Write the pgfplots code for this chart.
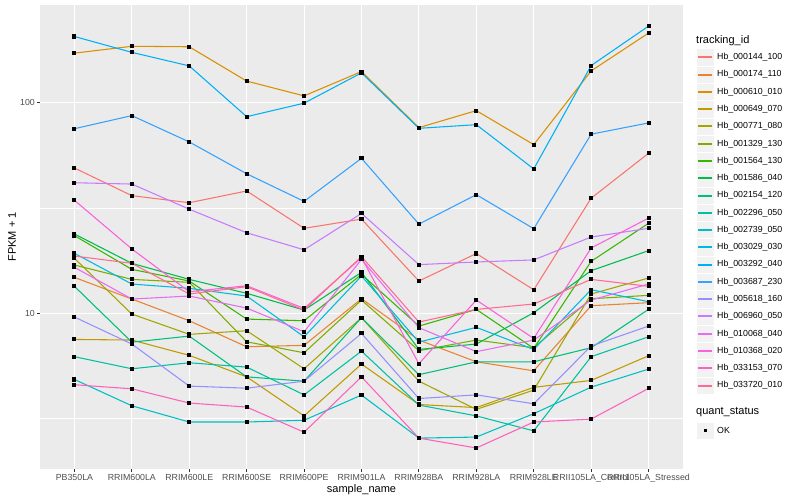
\documentclass[border=0pt]{standalone}
\usepackage{fontspec}
\setmainfont{Liberation Sans}
\usepackage{pgfplots}
\usepackage{pgfplotstable}
\pgfplotsset{compat=1.18}

\definecolor{panel}{HTML}{EBEBEB}
\definecolor{keybg}{HTML}{F2F2F2}
\definecolor{gray20}{HTML}{333333}
\definecolor{gray30}{HTML}{4D4D4D}
\definecolor{c1}{HTML}{F8766D}
\definecolor{c2}{HTML}{EA8331}
\definecolor{c3}{HTML}{D89000}
\definecolor{c4}{HTML}{C09B00}
\definecolor{c5}{HTML}{A3A500}
\definecolor{c6}{HTML}{7CAE00}
\definecolor{c7}{HTML}{39B600}
\definecolor{c8}{HTML}{00BB4E}
\definecolor{c9}{HTML}{00BF7D}
\definecolor{c10}{HTML}{00C1A3}
\definecolor{c11}{HTML}{00BFC4}
\definecolor{c12}{HTML}{00BAE0}
\definecolor{c13}{HTML}{00B0F6}
\definecolor{c14}{HTML}{35A2FF}
\definecolor{c15}{HTML}{9590FF}
\definecolor{c16}{HTML}{C77CFF}
\definecolor{c17}{HTML}{E76BF3}
\definecolor{c18}{HTML}{FA62DB}
\definecolor{c19}{HTML}{FF62BC}
\definecolor{c20}{HTML}{FF6C91}

% FPKM + 1 per sample (x = 0..10), one column per tracking_id
\pgfplotstableread{
x  s1   s2    s3    s4   s5    s6    s7    s8    s9    s10  s11  s12   s13   s14  s15  s16  s17   s18   s19  s20
0  49.0 14.78 172.5 7.49 18.21 16.93 23.35 23.78 13.40 6.20 4.83 19.24 207   75.4 9.57 41.7 16.50 34.4  4.56 18.68
1  36.2 11.66 186   7.44 9.89  14.46 16.14 17.24 7.27  5.43 3.62 13.74 174   87.0 7.12 41.1 11.66 20.18 4.36 17.24
2  33.5 9.19  185   6.29 7.92  14.00 14.20 14.46 7.77  5.80 3.03 13.11 150   65.2 4.49 31.2 12.05 12.63 3.73 12.32
3  38.1 6.91  127   4.97 8.24  7.30  9.36  12.41 4.97  5.53 3.03 12.05 86.0  46.0 4.39 24.1 10.56 13.49 3.57 13.35
4  25.3 7.02  108   3.24 5.43  6.47  9.19  10.33 4.74  4.08 3.09 7.71  99.7  34.0 4.74 20.0 8.15  10.52 2.71 10.33
5  28.0 11.70 141   5.72 9.50  11.53 15.28 15.62 9.50  6.59 4.07 15.01 139   54.5 8.00 29.8 18.01 18.34 4.97 18.55
6  14.2 7.44  76.3  3.67 4.74  6.62  8.67  6.71  5.09  3.65 2.54 7.27  75.7  26.5 3.92 17.0 8.52  5.74  2.54 9.06
7  19.2 5.86  91.9  3.55 3.48  7.44  10.41 7.12  5.86  3.24 2.57 8.55  78.8  36.6 4.08 17.5 6.55  11.53 2.28 10.41
8  12.9 5.31  63.3  4.43 4.30  6.84  6.79  10.04 5.86  2.75 3.32 6.71  48.5  25.2 3.70 17.9 7.44  7.57  3.03 11.04
9  35.2 10.84 142   4.78 12.32 11.70 17.62 15.91 6.84  6.20 4.44 12.92 150.6 71.0 6.97 23.0 11.53 20.40 3.13 14.46
10 57.6 11.20 215   6.26 14.68 12.14 26.73 19.81 10.41 7.71 5.41 11.32 232   80.3 8.67 25.3 13.74 28.3  4.38 13.40
}\fpkm

\begin{document}
\begin{tikzpicture}[x=1pt,y=1pt]
\useasboundingbox (0,0) rectangle (800,500);
\begin{axis}[
  at={(40pt,31pt)}, anchor=south west,
  width=643pt, height=464pt, scale only axis,
  xmin=-0.6, xmax=10.6,
  ymode=log, ymin=1.811, ymax=292.4,
  axis background/.style={fill=panel},
  axis line style={draw=none},
  grid=both,
  major grid style={white, line width=1.07pt},
  minor grid style={white, line width=0.53pt},
  xtick={0,...,10},
  xticklabels={PB350LA,RRIM600LA,RRIM600LE,RRIM600SE,RRIM600PE,RRIM901LA,RRIM928BA,RRIM928LA,RRIM928LE,RRII105LA\_Control,RRII105LA\_Stressed},
  ytick={10,100}, yticklabels={10,100},
  minor ytick={3.1623,31.623},
  minor tick length=0pt,
  tick align=outside, major tick length=2.75pt,
  tick style={gray20, line width=1pt},
  xtick pos=bottom, ytick pos=left,
  ticklabel style={font=\fontsize{8.8}{10}\selectfont, text=gray30},
  xticklabel style={inner sep=0pt, anchor=north, yshift=-2.2pt},
  yticklabel style={inner sep=0pt, anchor=east, xshift=-2.2pt},
  every axis plot/.append style={line width=1.07pt},
]
\addplot[c1, mark=none] table[x=x, y=s1] {\fpkm};
\addplot[c2, mark=none] table[x=x, y=s2] {\fpkm};
\addplot[c3, mark=none] table[x=x, y=s3] {\fpkm};
\addplot[c4, mark=none] table[x=x, y=s4] {\fpkm};
\addplot[c5, mark=none] table[x=x, y=s5] {\fpkm};
\addplot[c6, mark=none] table[x=x, y=s6] {\fpkm};
\addplot[c7, mark=none] table[x=x, y=s7] {\fpkm};
\addplot[c8, mark=none] table[x=x, y=s8] {\fpkm};
\addplot[c9, mark=none] table[x=x, y=s9] {\fpkm};
\addplot[c10, mark=none] table[x=x, y=s10] {\fpkm};
\addplot[c11, mark=none] table[x=x, y=s11] {\fpkm};
\addplot[c12, mark=none] table[x=x, y=s12] {\fpkm};
\addplot[c13, mark=none] table[x=x, y=s13] {\fpkm};
\addplot[c14, mark=none] table[x=x, y=s14] {\fpkm};
\addplot[c15, mark=none] table[x=x, y=s15] {\fpkm};
\addplot[c16, mark=none] table[x=x, y=s16] {\fpkm};
\addplot[c17, mark=none] table[x=x, y=s17] {\fpkm};
\addplot[c18, mark=none] table[x=x, y=s18] {\fpkm};
\addplot[c19, mark=none] table[x=x, y=s19] {\fpkm};
\addplot[c20, mark=none] table[x=x, y=s20] {\fpkm};
% points (quant_status = OK) on top
\pgfplotsinvokeforeach{1,...,20}{
  \addplot[only marks, mark=square*, mark size=1.5pt, black] table[x=x, y=s#1] {\fpkm};
}
\end{axis}

% axis titles
\node[font=\fontsize{11}{13}\selectfont] at (361.5,10) {sample\_name};
\node[font=\fontsize{11}{13}\selectfont, rotate=90] at (12,263) {FPKM + 1};

% legend: tracking_id
\node[anchor=west, inner sep=0pt, font=\fontsize{11}{13}\selectfont] at (696,459.3) {tracking\_id};
\foreach \k/\n in {0/000144\_100,1/000174\_110,2/000610\_010,3/000649\_070,4/000771\_080,
  5/001329\_130,6/001564\_130,7/001586\_040,8/002154\_120,9/002296\_050,10/002739\_050,
  11/003029\_030,12/003292\_040,13/003687\_230,14/005618\_160,15/006960\_050,
  16/010068\_040,17/010368\_020,18/033153\_070,19/033720\_010}{
  \pgfmathsetmacro{\yc}{500-57.3-17.28*\k}
  \pgfmathsetmacro{\yl}{500-round(57.3+17.28*\k)}
  \pgfmathtruncatemacro{\ci}{\k+1}
  \fill[keybg, draw=white, line width=0.5pt] (696.6,\yc-8.64) rectangle (713.9,\yc+8.64);
  \draw[color=c\ci, line width=1.4pt] (698.3,\yl) -- (712.2,\yl);
  \node[anchor=west, inner sep=0pt, font=\fontsize{8.8}{10}\selectfont] at (717,\yc) {Hb\_\n};
}

% legend: quant_status
\node[anchor=west, inner sep=0pt, font=\fontsize{11}{13}\selectfont] at (696,88.3) {quant\_status};
\fill[keybg, draw=white, line width=0.5pt] (696.6,69.3-8.64) rectangle (713.9,69.3+8.64);
\fill[black] (703.75,67.8) rectangle (706.75,70.8);
\node[anchor=west, inner sep=0pt, font=\fontsize{8.8}{10}\selectfont] at (717,69.3) {OK};
\end{tikzpicture}
\end{document}
